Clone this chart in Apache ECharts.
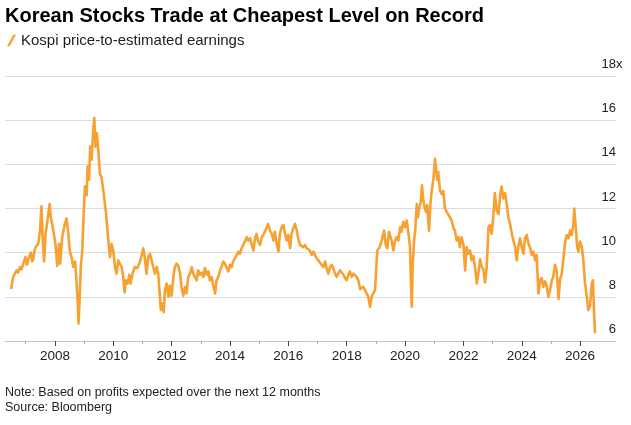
<!DOCTYPE html>
<html>
<head>
<meta charset="utf-8">
<script src="https://cdn.jsdelivr.net/npm/echarts@6/dist/echarts.min.js"></script>
<style>
  html, body { margin: 0; padding: 0; background: #fff; }
  #chart { width: 631px; height: 425px; }
</style>
</head>
<body>
<div id="chart"></div>
<script>
// Kospi forward P/E as [decimal year, ratio]
const pe2006to2009 = [
  [2006.50, 8.35], [2006.54, 8.7], [2006.57, 8.9], [2006.63, 9.05], [2006.69, 9.2], [2006.74, 9.1],
  [2006.80, 9.35], [2006.86, 9.25], [2006.91, 9.3], [2006.99, 9.8], [2007.04, 9.45], [2007.09, 9.5],
  [2007.13, 9.85], [2007.18, 10.0], [2007.22, 9.6], [2007.26, 9.7], [2007.30, 10.1], [2007.34, 10.25],
  [2007.39, 10.2], [2007.43, 10.4], [2007.49, 11.0], [2007.54, 12.1], [2007.58, 10.7], [2007.63, 9.6],
  [2007.68, 10.85], [2007.75, 11.5], [2007.82, 12.2], [2007.86, 11.6], [2007.92, 11.2], [2007.98, 11.25],
  [2008.02, 10.4], [2008.08, 9.4], [2008.14, 10.4], [2008.18, 9.5], [2008.25, 10.7], [2008.34, 11.3],
  [2008.40, 11.55], [2008.46, 10.85], [2008.51, 10.1], [2008.57, 9.8], [2008.63, 9.35], [2008.69, 9.6],
  [2008.73, 8.9], [2008.78, 7.85], [2008.81, 6.8], [2008.85, 8.0], [2008.89, 9.4], [2008.94, 10.1],
  [2008.98, 11.6], [2009.03, 13.0], [2009.09, 12.6], [2009.12, 13.9], [2009.17, 13.3], [2009.21, 14.8],
  [2009.26, 14.2], [2009.31, 15.5], [2009.35, 16.1], [2009.39, 14.8], [2009.44, 15.4], [2009.49, 14.6]
];
const pe2009to2012 = [
  [2009.54, 13.6], [2009.60, 13.4], [2009.66, 12.8], [2009.70, 12.4], [2009.75, 11.8], [2009.79, 11.2],
  [2009.84, 10.4], [2009.89, 9.8], [2009.94, 10.4], [2010.00, 10.1], [2010.06, 9.35], [2010.11, 9.05],
  [2010.17, 9.65], [2010.23, 9.7], [2010.29, 9.35], [2010.34, 8.9], [2010.39, 8.2], [2010.43, 8.75],
  [2010.49, 8.6], [2010.55, 9.0], [2010.59, 8.6], [2010.66, 9.05], [2010.74, 9.35], [2010.82, 9.3],
  [2010.89, 9.5], [2010.96, 9.8], [2011.03, 10.2], [2011.09, 9.7], [2011.14, 9.05], [2011.20, 9.8],
  [2011.26, 9.95], [2011.31, 9.95], [2011.37, 9.35], [2011.43, 9.05], [2011.49, 9.35], [2011.54, 9.05],
  [2011.60, 8.0], [2011.63, 7.4], [2011.68, 7.7], [2011.73, 7.3], [2011.77, 8.3], [2011.83, 8.6],
  [2011.89, 8.0], [2011.94, 8.5], [2012.00, 8.05], [2012.06, 8.9], [2012.11, 9.35], [2012.17, 9.5],
  [2012.23, 9.4], [2012.29, 9.05], [2012.34, 8.45], [2012.40, 8.05], [2012.46, 8.45], [2012.51, 8.15],
  [2012.57, 8.9], [2012.63, 9.05], [2012.69, 9.35], [2012.74, 9.05]
];
const pe2012to2019 = [
  [2012.80, 9.05], [2012.86, 8.75], [2012.91, 9.2], [2012.97, 9.0], [2013.03, 9.1], [2013.09, 8.9],
  [2013.14, 9.3], [2013.20, 9.0], [2013.26, 9.15], [2013.31, 8.75], [2013.37, 8.9], [2013.43, 8.5],
  [2013.49, 8.15], [2013.54, 8.75], [2013.60, 8.9], [2013.66, 9.2], [2013.71, 9.35], [2013.77, 9.6],
  [2013.83, 9.5], [2013.89, 9.3], [2013.94, 9.15], [2014.00, 9.45], [2014.06, 9.35], [2014.11, 9.6],
  [2014.17, 9.65], [2014.23, 9.9], [2014.29, 10.05], [2014.34, 9.95], [2014.40, 10.2], [2014.46, 10.25],
  [2014.51, 10.5], [2014.57, 10.7], [2014.63, 10.55], [2014.69, 10.65], [2014.74, 10.4], [2014.80, 10.1],
  [2014.86, 10.65], [2014.91, 10.85], [2014.97, 10.5], [2015.03, 10.35], [2015.09, 10.7], [2015.14, 10.8],
  [2015.20, 10.95], [2015.26, 11.15], [2015.31, 11.3], [2015.37, 11.0], [2015.43, 10.85], [2015.49, 10.55],
  [2015.54, 10.95], [2015.60, 10.4], [2015.66, 10.05], [2015.71, 10.85], [2015.77, 11.15], [2015.83, 11.25],
  [2015.89, 10.85], [2015.94, 10.55], [2016.00, 10.8], [2016.06, 10.2], [2016.11, 10.85], [2016.17, 11.1],
  [2016.23, 11.3], [2016.29, 11.0], [2016.34, 10.65], [2016.40, 10.35], [2016.46, 10.4], [2016.51, 10.25],
  [2016.57, 10.35], [2016.63, 10.2], [2016.69, 10.25], [2016.74, 10.1], [2016.80, 9.9], [2016.86, 10.05],
  [2016.91, 9.9], [2016.97, 9.75], [2017.03, 9.65], [2017.09, 9.6], [2017.14, 9.45], [2017.20, 9.35],
  [2017.26, 9.6], [2017.31, 9.3], [2017.37, 9.05], [2017.43, 9.35], [2017.49, 9.45], [2017.54, 9.3],
  [2017.60, 9.05], [2017.66, 8.9], [2017.71, 9.05], [2017.77, 9.2], [2017.83, 9.1], [2017.89, 9.0],
  [2017.94, 8.85], [2018.00, 8.75], [2018.06, 9.0], [2018.11, 9.15], [2018.17, 8.9], [2018.23, 9.05],
  [2018.29, 9.0], [2018.34, 8.9], [2018.40, 8.75], [2018.46, 8.35], [2018.51, 8.3], [2018.57, 8.45],
  [2018.63, 8.3], [2018.69, 8.35], [2018.74, 8.0], [2018.80, 7.55], [2018.86, 8.0], [2018.91, 8.15],
  [2018.97, 8.3], [2019.01, 9.2], [2019.05, 10.1], [2019.11, 10.2], [2019.17, 10.4], [2019.22, 10.65],
  [2019.28, 11.0], [2019.34, 10.35], [2019.39, 10.2], [2019.45, 10.95]
];
const pe2019to2023 = [
  [2019.48, 11.0], [2019.54, 10.55], [2019.60, 10.1], [2019.66, 10.55], [2019.71, 10.7], [2019.77, 10.55],
  [2019.83, 11.15], [2019.88, 10.95], [2019.94, 11.4], [2020.00, 11.15], [2020.06, 11.45], [2020.11, 10.95],
  [2020.17, 10.25], [2020.20, 8.75], [2020.23, 7.55], [2020.26, 9.35], [2020.31, 10.55], [2020.35, 11.0],
  [2020.40, 12.2], [2020.44, 11.6], [2020.49, 12.05], [2020.54, 12.3], [2020.58, 13.05], [2020.63, 12.35],
  [2020.67, 12.05], [2020.72, 11.85], [2020.76, 12.15], [2020.82, 11.0], [2020.87, 12.2], [2020.91, 12.75],
  [2020.97, 13.3], [2021.03, 14.25], [2021.06, 14.2], [2021.10, 13.3], [2021.14, 13.65], [2021.20, 12.8],
  [2021.26, 12.65], [2021.31, 12.8], [2021.37, 12.0], [2021.43, 11.85], [2021.48, 11.9], [2021.54, 11.6],
  [2021.60, 11.45], [2021.66, 11.1], [2021.71, 11.0], [2021.77, 10.55], [2021.83, 10.7], [2021.88, 10.25],
  [2021.94, 10.7], [2022.00, 10.4], [2022.06, 9.2], [2022.11, 10.25], [2022.17, 9.95], [2022.23, 10.1],
  [2022.28, 9.65], [2022.34, 9.85], [2022.40, 9.35], [2022.46, 8.6], [2022.51, 9.05], [2022.57, 9.7],
  [2022.63, 9.35], [2022.68, 9.25], [2022.74, 8.65], [2022.80, 9.35], [2022.86, 11.15], [2022.91, 11.25],
  [2022.97, 10.85], [2023.03, 11.75]
];
const pe2023to2026 = [
  [2023.08, 12.7], [2023.14, 11.9], [2023.20, 11.75], [2023.26, 12.6], [2023.31, 13.0], [2023.37, 12.45],
  [2023.43, 12.7], [2023.48, 12.25], [2023.54, 11.6], [2023.60, 11.3], [2023.66, 10.85], [2023.71, 10.8],
  [2023.77, 10.25], [2023.83, 9.65], [2023.88, 10.25], [2023.94, 10.65], [2024.00, 10.25], [2024.06, 9.95],
  [2024.11, 10.65], [2024.17, 10.8], [2024.23, 10.4], [2024.28, 10.25], [2024.34, 9.9], [2024.40, 10.05],
  [2024.46, 9.65], [2024.51, 9.9], [2024.57, 8.15], [2024.63, 8.75], [2024.68, 8.85], [2024.74, 8.45],
  [2024.80, 8.7], [2024.86, 8.45], [2024.91, 8.0], [2024.97, 8.3], [2025.03, 8.75], [2025.08, 8.9],
  [2025.14, 9.45], [2025.20, 9.15], [2025.26, 7.9], [2025.31, 8.75], [2025.37, 9.05], [2025.43, 9.75],
  [2025.48, 10.4], [2025.54, 10.8], [2025.60, 10.65], [2025.66, 11.0], [2025.71, 10.8], [2025.77, 11.3],
  [2025.80, 12.0], [2025.85, 11.15], [2025.90, 10.25], [2025.94, 10.05], [2026.00, 10.5], [2026.06, 10.25],
  [2026.11, 9.65], [2026.17, 8.6], [2026.23, 8.0], [2026.28, 7.4], [2026.34, 7.6], [2026.40, 8.6],
  [2026.44, 8.75], [2026.48, 7.25], [2026.51, 6.35]
];

const peSeries = [].concat(pe2006to2009, pe2009to2012, pe2012to2019, pe2019to2023, pe2023to2026);

const labelYears = [2008, 2010, 2012, 2014, 2016, 2018, 2020, 2022, 2024, 2026];
const minorYears = [2007, 2009, 2011, 2013, 2015, 2017, 2019, 2021, 2023, 2025];
const yTop = 18;

const FONT = '"Liberation Sans", Arial, sans-serif';
const ORANGE = '#f7a132';
const INK = '#222';

const chart = echarts.init(document.getElementById('chart'));

chart.setOption({
  animation: false,
  textStyle: { fontFamily: FONT },
  title: [
    {
      text: 'Korean Stocks Trade at Cheapest Level on Record',
      left: 0, top: 1,
      textStyle: { fontSize: 20, fontWeight: 'bold', color: '#000', fontFamily: FONT }
    },
    {
      text: 'Note: Based on profits expected over the next 12 months\nSource: Bloomberg',
      left: 0, top: 380,
      textStyle: { fontSize: 12.5, fontWeight: 'normal', color: INK, lineHeight: 15, fontFamily: FONT }
    }
  ],
  legend: {
    left: 2, top: 28,
    itemWidth: 9, itemHeight: 13,
    icon: 'path://M7,0 L10,0 L3,13 L0,13 Z',
    textStyle: { fontSize: 15, color: INK, fontFamily: FONT },
    data: ['Kospi price-to-estimated earnings']
  },
  grid: { left: 5, right: 15, top: 76, bottom: 84 },
  xAxis: [
    {
      type: 'value',
      min: 2006.29, max: 2027.23,
      axisLine: { show: true, lineStyle: { color: '#c4c4c4', width: 1 } },
      axisTick: { show: true, customValues: labelYears, length: 5, lineStyle: { color: '#444' } },
      axisLabel: {
        customValues: labelYears, margin: 8,
        fontSize: 13.5, color: INK, fontFamily: FONT,
        formatter: v => String(v)
      },
      splitLine: { show: false }
    },
    {
      type: 'value',
      min: 2006.29, max: 2027.23,
      position: 'bottom',
      axisLine: { show: false },
      axisTick: { show: true, customValues: minorYears, length: 3, lineStyle: { color: '#aaa' } },
      axisLabel: { show: false },
      splitLine: { show: false }
    }
  ],
  yAxis: {
    type: 'value',
    position: 'right',
    min: 6, max: yTop, interval: 2,
    axisLine: { show: false },
    axisTick: { show: false },
    splitLine: { show: true, lineStyle: { color: '#dcdcdc', width: 1 } },
    axisLabel: {
      inside: true, margin: 0,
      verticalAlign: 'bottom',
      padding: [0, 0, 5, 0],
      fontSize: 13, color: INK, fontFamily: FONT
    }
  },
  series: [
    {
      name: 'Kospi price-to-estimated earnings',
      type: 'line',
      xAxisIndex: 0,
      data: peSeries,
      showSymbol: false,
      color: ORANGE,
      lineStyle: { color: ORANGE, width: 2.6, join: 'round' },
      z: 3
    }
  ]
});

// the "x" unit hangs to the right of the top tick label
const topPx = chart.convertToPixel({ yAxisIndex: 0 }, yTop);
const rightPx = chart.getWidth() - 15;
chart.setOption({
  graphic: [{
    type: 'text',
    x: rightPx, y: topPx - 5,
    style: { text: 'x', fill: INK, font: '13px ' + FONT, textAlign: 'left', textVerticalAlign: 'bottom' }
  }]
});
</script>
</body>
</html>
